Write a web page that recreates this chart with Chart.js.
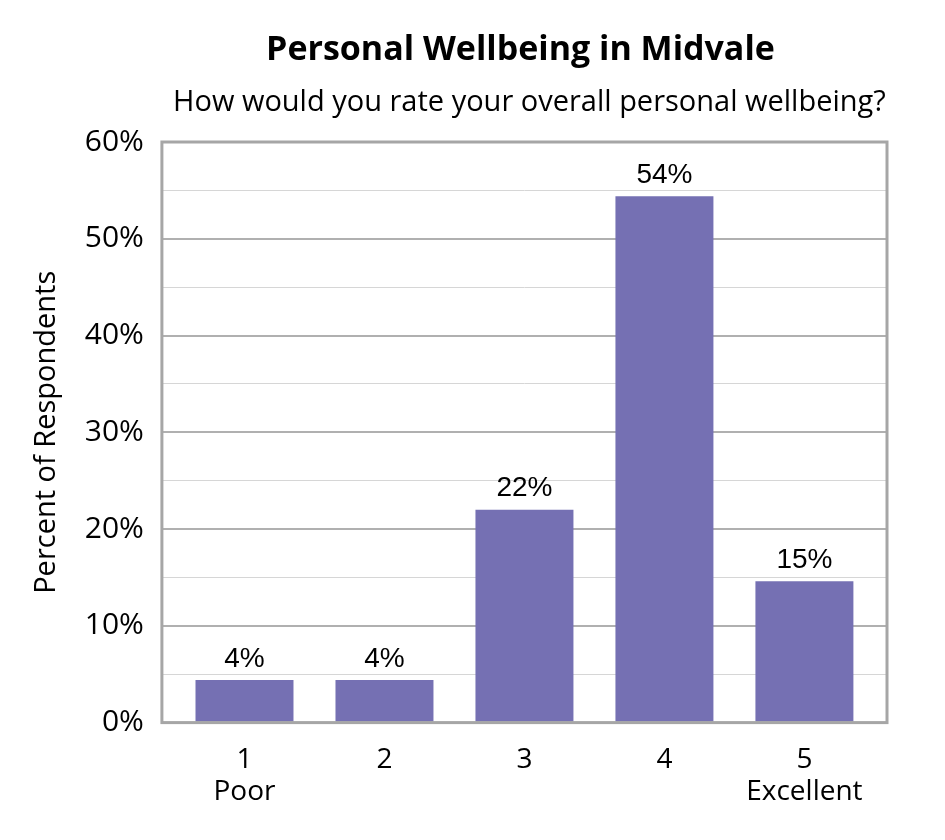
<!DOCTYPE html>
<html>
<head>
<meta charset="utf-8">
<script src="https://cdn.jsdelivr.net/npm/chart.js@4"></script>
<style>
  html, body { margin: 0; padding: 0; background: #fff; }
  #wrap { width: 945px; height: 840px; }
</style>
</head>
<body>
<div id="wrap"><canvas id="chart"></canvas></div>
<script>
// ---- DATA ----
const categories = [["1", "Poor"], ["2", ""], ["3", ""], ["4", ""], ["5", "Excellent"]];
const values = [0.044, 0.044, 0.22, 0.544, 0.146];
const valueLabels = ["4%", "4%", "22%", "54%", "15%"];
const titleText = "Personal Wellbeing in Midvale";
const subtitleText = "How would you rate your overall personal wellbeing?";

const uiFont = "'Open Sans', 'Noto Sans', sans-serif";

// ---- TITLE CENTERED OVER PLOT AREA ----
const headerPlugin = {
  id: "header",
  afterDraw(chart) {
    const { ctx, chartArea } = chart;
    const cx = (chartArea.left + chartArea.right) / 2;
    ctx.save();
    ctx.fillStyle = "#000";
    ctx.textAlign = "center";
    ctx.textBaseline = "middle";
    ctx.font = "bold 34px " + uiFont;
    ctx.fillText(titleText, cx - 4, 50);
    ctx.font = "29px " + uiFont;
    ctx.fillText(subtitleText, cx + 5, 103);
    ctx.restore();
  }
};

// ---- FRAME AROUND PLOT ----
const framePlugin = {
  id: "frame",
  afterDatasetsDraw(chart) {
    const { ctx, chartArea } = chart;
    ctx.save();
    ctx.strokeStyle = "#a6a6a6";
    ctx.lineWidth = 3;
    ctx.strokeRect(chartArea.left, chartArea.top, chartArea.right - chartArea.left, chartArea.bottom - chartArea.top);
    ctx.restore();
  }
};

// ---- VALUE LABELS ----
const labelPlugin = {
  id: "valueLabels",
  afterDatasetsDraw(chart) {
    const { ctx } = chart;
    const meta = chart.getDatasetMeta(0);
    ctx.save();
    ctx.fillStyle = "#000";
    ctx.textAlign = "center";
    ctx.textBaseline = "bottom";
    ctx.font = "28px 'Liberation Sans', Arial, sans-serif";
    meta.data.forEach((bar, i) => {
      ctx.fillText(valueLabels[i], bar.x, bar.y - 7);
    });
    ctx.restore();
  }
};

new Chart(document.getElementById("chart"), {
  type: "bar",
  data: {
    datasets: [{
      data: values.map((v, i) => ({ x: i, y: v })),
      backgroundColor: "#7570b3",
      borderWidth: 0,
      categoryPercentage: 1,
      barPercentage: 0.7
    }]
  },
  options: {
    responsive: true,
    maintainAspectRatio: false,
    animation: false,
    layout: { padding: { top: 142, right: 58, left: 29, bottom: 19 } },
    plugins: {
      legend: { display: false },
      tooltip: { enabled: false }
    },
    scales: {
      x: {
        type: "linear",
        min: -0.59,
        max: 4.59,
        offset: false,
        afterBuildTicks: scale => {
          scale.ticks = categories.map((_, i) => ({ value: i }));
        },
        grid: { display: false },
        border: { display: false },
        ticks: {
          color: "#000",
          font: { family: uiFont, size: 28, lineHeight: 1.15 },
          padding: 13,
          callback: v => categories[v]
        }
      },
      y: {
        min: 0,
        max: 0.6,
        ticks: {
          stepSize: 0.05,
          color: "#000",
          font: { family: uiFont, size: 30 },
          padding: 18,
          callback: v => {
            const p = Math.round(v * 100);
            return p % 10 === 0 ? p + "%" : "";
          }
        },
        grid: {
          drawTicks: false,
          color: c => (Math.round(c.tick.value * 100) % 10 === 0 ? "#b0b0b0" : "#d6d6d6"),
          lineWidth: c => (Math.round(c.tick.value * 100) % 10 === 0 ? 2 : 1)
        },
        border: { display: false },
        title: {
          display: true,
          text: "Percent of Respondents",
          color: "#000",
          font: { family: uiFont, size: 29 },
          padding: { top: 0, bottom: 3 }
        }
      }
    }
  },
  plugins: [headerPlugin, framePlugin, labelPlugin]
});
</script>
</body>
</html>
